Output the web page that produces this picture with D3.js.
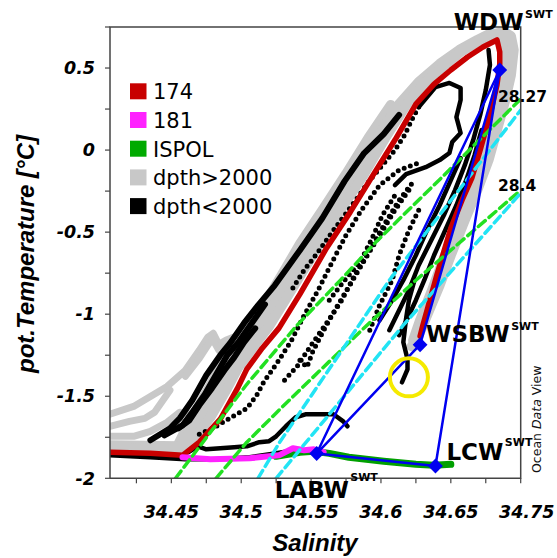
<!DOCTYPE html>
<html><head><meta charset="utf-8">
<script src="https://cdn.jsdelivr.net/npm/d3@7"></script>
<style>body{margin:0;background:#fff}</style>
</head><body><svg id="c" width="557" height="558"></svg>
<script>
// ---------- data ----------
const xTicks = [34.45,34.5,34.55,34.6,34.65,34.7];
const xTickLabels = ["34.45","34.5","34.55","34.6","34.65","34.75"];
const yTicks = [-2,-1.5,-1,-0.5,0,0.5];
const yTickLabels = ["-2","-1.5","-1","-0.5","0","0.5"];

const legendNames = ["174","181","ISPOL","dpth>2000","dpth<2000"];
const legendColors = ["#c80000","#ff22ff","#00aa00","#c8c8c8","#000000"];

// station 174
const red174 = [[34.406,-1.841],[34.435,-1.848],[34.458,-1.860],[34.470,-1.780],[34.485,-1.640],[34.497,-1.457],[34.504,-1.335],[34.515,-1.207],[34.527,-1.085],[34.542,-0.878],[34.561,-0.598],[34.578,-0.378],[34.593,-0.171],[34.610,0.061],[34.625,0.280],[34.638,0.402],[34.650,0.488],[34.662,0.567],[34.673,0.628],[34.683,0.671],[34.685,0.598],[34.685,0.524],[34.683,0.396],[34.678,0.213],[34.671,0.000],[34.665,-0.171],[34.658,-0.305],[34.650,-0.476],[34.640,-0.762],[34.635,-0.915],[34.630,-1.067],[34.628,-1.134]];
// station 181
const mag181 = [[34.458,-1.872],[34.478,-1.884],[34.506,-1.878],[34.527,-1.860],[34.537,-1.817],[34.545,-1.829],[34.552,-1.823],[34.559,-1.841]];
// ISPOL
const ispol = [[34.525,-1.866],[34.542,-1.841],[34.552,-1.835],[34.563,-1.848],[34.577,-1.872],[34.602,-1.896],[34.625,-1.915],[34.638,-1.921],[34.650,-1.915]];

// dpth>2000 profiles
const grayA = [[34.406,-1.817],[34.458,-1.829],[34.466,-1.756],[34.478,-1.628],[34.490,-1.451],[34.498,-1.323],[34.509,-1.195],[34.520,-1.073],[34.535,-0.866],[34.555,-0.585],[34.571,-0.366],[34.587,-0.159],[34.603,0.073],[34.619,0.287],[34.632,0.415],[34.645,0.512],[34.657,0.598],[34.670,0.665],[34.681,0.708],[34.688,0.720],[34.693,0.695],[34.695,0.610],[34.693,0.457],[34.689,0.305],[34.683,0.122],[34.677,-0.061],[34.669,-0.244],[34.660,-0.427],[34.650,-0.641],[34.642,-0.824],[34.633,-1.007],[34.627,-1.129],[34.622,-1.196]];
const grayB = [[34.406,-1.799],[34.456,-1.805],[34.462,-1.732],[34.473,-1.604],[34.484,-1.433],[34.492,-1.312],[34.503,-1.177],[34.515,-1.055],[34.530,-0.854],[34.549,-0.580],[34.565,-0.360],[34.581,-0.153],[34.597,0.073],[34.613,0.281],[34.627,0.415],[34.642,0.525],[34.656,0.610],[34.669,0.671],[34.679,0.714],[34.687,0.683],[34.689,0.549],[34.686,0.366],[34.680,0.153],[34.673,-0.061],[34.664,-0.275],[34.655,-0.458],[34.645,-0.659],[34.636,-0.866],[34.628,-1.037],[34.623,-1.159]];
const grayC = [[34.455,-1.793],[34.460,-1.707],[34.467,-1.598],[34.478,-1.433],[34.485,-1.318],[34.497,-1.165],[34.508,-1.049],[34.523,-0.848],[34.542,-0.573],[34.559,-0.354],[34.575,-0.146],[34.591,0.073],[34.607,0.275]];
const grayT1 = [[34.406,-1.610],[34.423,-1.562],[34.435,-1.501],[34.447,-1.440],[34.460,-1.342],[34.470,-1.220],[34.476,-1.141],[34.480,-1.116],[34.484,-1.183],[34.489,-1.159],[34.496,-1.135],[34.505,-1.073],[34.515,-0.976],[34.527,-0.854]];
const grayT1b = [[34.460,-1.378],[34.470,-1.269],[34.477,-1.177],[34.480,-1.159],[34.484,-1.220],[34.490,-1.196],[34.499,-1.165],[34.510,-1.067]];
const grayT2 = [[34.406,-1.683],[34.420,-1.653],[34.431,-1.635],[34.438,-1.598],[34.443,-1.537],[34.449,-1.463]];
const grayT3 = [[34.406,-1.744],[34.423,-1.744],[34.435,-1.714],[34.447,-1.659],[34.456,-1.598],[34.462,-1.604],[34.467,-1.616],[34.472,-1.598],[34.479,-1.537],[34.486,-1.439],[34.493,-1.318]];

// dpth<2000 profiles (dense = solid, sparse = dotted)
const blackDense = [
 [[34.435,-1.768],[34.449,-1.695],[34.456,-1.634],[34.465,-1.524],[34.475,-1.372],[34.485,-1.250],[34.492,-1.177],[34.502,-1.055],[34.512,-0.946],[34.524,-0.824],[34.542,-0.610],[34.558,-0.415],[34.574,-0.189],[34.588,-0.018],[34.602,0.098],[34.613,0.214]],
 [[34.445,-1.738],[34.458,-1.677],[34.465,-1.598],[34.474,-1.488],[34.483,-1.354],[34.490,-1.250],[34.498,-1.171],[34.508,-1.049],[34.517,-0.940]],
 [[34.455,-1.695],[34.463,-1.646],[34.470,-1.555],[34.479,-1.452],[34.488,-1.342],[34.495,-1.263],[34.502,-1.171],[34.510,-1.086]],
 [[34.406,-1.860],[34.435,-1.872],[34.460,-1.884],[34.481,-1.884],[34.506,-1.872],[34.524,-1.848],[34.538,-1.829]],
 [[34.462,-1.841],[34.469,-1.805],[34.475,-1.823],[34.485,-1.817],[34.495,-1.811],[34.504,-1.805],[34.513,-1.780],[34.520,-1.774],[34.525,-1.744],[34.532,-1.683],[34.539,-1.628],[34.546,-1.610],[34.556,-1.610],[34.566,-1.610],[34.573,-1.653],[34.576,-1.683]],
 [[34.606,-1.098],[34.613,-0.976],[34.620,-0.854],[34.627,-0.702],[34.636,-0.549],[34.645,-0.397],[34.653,-0.244],[34.660,-0.092],[34.666,0.061],[34.671,0.214],[34.675,0.366],[34.678,0.519],[34.677,0.610]],
 [[34.599,-1.037],[34.608,-0.915],[34.616,-0.793],[34.625,-0.641],[34.633,-0.488],[34.642,-0.336],[34.650,-0.183],[34.657,-0.049]],
 [[34.613,-1.128],[34.619,-1.025],[34.625,-0.915],[34.631,-0.793],[34.638,-0.641],[34.646,-0.488],[34.654,-0.336],[34.661,-0.183],[34.667,-0.031],[34.672,0.122]],
 [[34.624,-0.793],[34.620,-0.915],[34.618,-1.025],[34.617,-1.098],[34.616,-1.171],[34.619,-1.275],[34.619,-1.336],[34.615,-1.415]],
 [[34.610,-0.214],[34.618,-0.146],[34.632,-0.104],[34.642,-0.061],[34.649,-0.018],[34.651,0.049],[34.657,0.104],[34.654,0.201],[34.657,0.305],[34.657,0.378],[34.649,0.409],[34.639,0.384],[34.633,0.323],[34.627,0.262]]
];
const blackDotted = [
 [[34.470,-1.732],[34.481,-1.689],[34.493,-1.628],[34.504,-1.574],[34.511,-1.495],[34.516,-1.415],[34.526,-1.293],[34.536,-1.159],[34.545,-1.007],[34.555,-0.854],[34.565,-0.683],[34.575,-0.519],[34.586,-0.366],[34.599,-0.214],[34.613,-0.122],[34.627,-0.079]],
 [[34.531,-1.402],[34.540,-1.318],[34.549,-1.202],[34.561,-1.055],[34.572,-0.915],[34.581,-0.763],[34.592,-0.610],[34.602,-0.458],[34.613,-0.305],[34.624,-0.183]],
 [[34.542,-1.281],[34.547,-1.323],[34.551,-1.232],[34.559,-1.098],[34.569,-0.946],[34.579,-0.805],[34.589,-0.659],[34.600,-0.506],[34.610,-0.366],[34.620,-0.244]],
 [[34.627,0.262],[34.622,0.183],[34.617,0.092],[34.610,0.000],[34.601,-0.092],[34.592,-0.183],[34.583,-0.293],[34.574,-0.397],[34.565,-0.500],[34.555,-0.622],[34.545,-0.732],[34.536,-0.854]],
 [[34.563,-0.915],[34.574,-0.793],[34.585,-0.683],[34.593,-0.549],[34.601,-0.397],[34.610,-0.275]],
 [[34.592,-1.098],[34.599,-0.946],[34.608,-0.793],[34.613,-0.641],[34.620,-0.488],[34.627,-0.366]]
];

// isopycnals (two references each for 28.27 and 28.4)
const isoGreen2827 = [[34.453,-2.0],[34.504,-1.427],[34.540,-1.067],[34.571,-0.793],[34.597,-0.555],[34.643,-0.171],[34.700,0.311]];
const isoGreen284 = [[34.482,-2.0],[34.504,-1.780],[34.527,-1.585],[34.587,-1.091],[34.625,-0.793],[34.700,-0.244]];
const isoCyan2827 = [[34.512,-2.0],[34.527,-1.787],[34.606,-0.793],[34.700,0.244]];
const isoCyan284 = [[34.525,-2.0],[34.616,-1.067],[34.700,-0.262]];
const isoLabels = ["28.27","28.4"];

// source water types
const wmNames = ["WDW","WSBW","LABW","LCW"];
const wmS = [34.685,34.628,34.554,34.639];
const wmT = [0.488,-1.186,-1.849,-1.925];
const mixing = [["WDW","WSBW"],["WDW","LABW"],["WDW","LCW"],["LABW","WSBW"],["LABW","LCW"]];
const highlight = [34.620,-1.385];

// ---------- drawing ----------
const svg = d3.select("#c");
const L=110, R=520.7, T0=27, B=478.3;
const x = d3.scaleLinear().domain([34.4061,34.7]).range([L,R]);
const y = d3.scaleLinear().domain([-2,0.75]).range([B,T0]);
const line = d3.line().x(d=>x(d[0])).y(d=>y(d[1]));

svg.append("defs").append("clipPath").attr("id","clip")
  .append("rect").attr("x",L).attr("y",T0).attr("width",R-L).attr("height",B-T0);
const g = svg.append("g").attr("clip-path","url(#clip)");

function draw(data, color, w, dash){
  const p = g.append("path").datum(data).attr("d",line).attr("fill","none")
    .attr("stroke",color).attr("stroke-width",w)
    .attr("stroke-linejoin","round").attr("stroke-linecap","round");
  if(dash) p.attr("stroke-dasharray",dash);
  return p;
}
// gray
[grayT1,grayT1b,grayT2,grayT3].forEach(d=>draw(d,"#c8c8c8",7));
[grayC,grayB,grayA].forEach(d=>draw(d,"#c8c8c8",10));
// black
blackDense.forEach((d,i)=>draw(d,"#000",i<3?6:4.5));
blackDotted.forEach(d=>draw(d,"#000",5,"0 6.5"));
// stations
draw(red174,"#c80000",5.5);
draw(ispol,"#00a000",7);
draw(mag181,"#ff22ff",6);
// isopycnals
draw(isoGreen2827,"#22e022",3.5,"9 5");
draw(isoGreen284,"#22e022",3.5,"9 5");
draw(isoCyan2827,"#22e4f4",3.5,"9 5");
draw(isoCyan284,"#22e4f4",3.5,"9 5");
// mixing lines
const wm = {};
wmNames.forEach((n,i)=>wm[n]=[wmS[i],wmT[i]]);
mixing.forEach(([a,b])=>draw([wm[a],wm[b]],"#0000f0",2.5));
wmNames.forEach(n=>{
  svg.append("path").attr("d",d3.symbol().type(d3.symbolDiamond2).size(140))
   .attr("transform",`translate(${x(wm[n][0])},${y(wm[n][1])})`)
   .attr("fill","#0000f0");
});
// highlight circle
svg.append("circle").attr("cx",x(highlight[0])).attr("cy",y(highlight[1])).attr("r",19)
  .attr("fill","none").attr("stroke","#f5ea00").attr("stroke-width",4);

// frame & axes
const axCol="#444";
svg.append("path").attr("d",`M${L},${B}V${T0}H${R}V${B}H${L}`).attr("fill","none").attr("stroke",axCol).attr("stroke-width",1.5);
const xMinor = d3.range(34.425,34.7001,0.025);
svg.selectAll(".xt").data(xMinor).join("line")
  .attr("x1",d=>x(d)).attr("x2",d=>x(d)).attr("y1",B).attr("y2",B+5).attr("stroke",axCol).attr("stroke-width",1.2);
const yMinor = d3.range(-2,0.7501,0.25);
svg.selectAll(".yt").data(yMinor).join("line")
  .attr("y1",d=>y(d)).attr("y2",d=>y(d)).attr("x1",L-5).attr("x2",L).attr("stroke",axCol).attr("stroke-width",1.2);

const tickFont = "'DejaVu Sans', sans-serif";
svg.selectAll(".xl").data(xTicks).join("text")
  .attr("x",(d,i)=>x(d)+(i===xTicks.length-1?6:0)).attr("y",518)
  .attr("text-anchor","middle").attr("font-family",tickFont).attr("font-weight","bold").attr("font-style","italic")
  .attr("font-size",17.5).text((d,i)=>xTickLabels[i]);
svg.selectAll(".yl").data(yTicks).join("text")
  .attr("x",95).attr("y",d=>y(d)+6.2)
  .attr("text-anchor","end").attr("font-family",tickFont).attr("font-weight","bold").attr("font-style","italic")
  .attr("font-size",17.5).text((d,i)=>yTickLabels[i]);

const titleFont = "'Liberation Sans', Arial, sans-serif";
svg.append("text").attr("x",315).attr("y",551).attr("text-anchor","middle")
  .attr("font-family",titleFont).attr("font-weight","bold").attr("font-style","italic").attr("font-size",24).text("Salinity");
svg.append("text").attr("transform","translate(34,254) rotate(-90)").attr("text-anchor","middle")
  .attr("font-family",titleFont).attr("font-weight","bold").attr("font-style","italic").attr("font-size",24).text("pot.Temperature [°C]");

// legend
const lg = svg.append("g");
legendNames.forEach((n,i)=>{
  const by = 99.3 + i*28.7;
  lg.append("rect").attr("x",130).attr("y",by-16).attr("width",16.5).attr("height",16).attr("fill",legendColors[i]);
  lg.append("text").attr("x",153).attr("y",by).attr("font-family","'DejaVu Sans', sans-serif").attr("font-size",21).text(n);
});

// water-mass labels
const lblOff = {WDW:[-46,-40], WSBW:[6,-2.5], LCW:[11,-6], LABW:[-42,44]};
const supDy = {WDW:-12, WSBW:-12, LCW:-14, LABW:-17};
wmNames.forEach(n=>{
  const px=x(wm[n][0]), py=y(wm[n][1]);
  const t = svg.append("text").attr("x",px+lblOff[n][0]).attr("y",py+lblOff[n][1])
    .attr("font-family","'DejaVu Sans', sans-serif").attr("font-weight","bold").attr("font-size",23).text(n);
  const w = t.node().getComputedTextLength();
  svg.append("text").attr("x",px+lblOff[n][0]+w+1.5).attr("y",py+lblOff[n][1]+supDy[n])
    .attr("font-family","'DejaVu Sans', sans-serif").attr("font-weight","bold").attr("font-size",11).text("SWT");
});
// isopycnal labels
svg.append("text").attr("x",498).attr("y",102).attr("font-family","'DejaVu Sans', sans-serif").attr("font-weight","bold").attr("font-size",15.5).text(isoLabels[0]);
svg.append("text").attr("x",498).attr("y",191).attr("font-family","'DejaVu Sans', sans-serif").attr("font-weight","bold").attr("font-size",15.5).text(isoLabels[1]);

// ODV mark
const odv = svg.append("text").attr("transform","translate(541,473) rotate(-90)")
  .attr("font-family","'DejaVu Sans', sans-serif").attr("font-size",12.5).attr("fill","#111");
odv.append("tspan").text("Ocean ");
odv.append("tspan").attr("font-style","italic").text("Data");
odv.append("tspan").text(" View");
</script></body></html>
